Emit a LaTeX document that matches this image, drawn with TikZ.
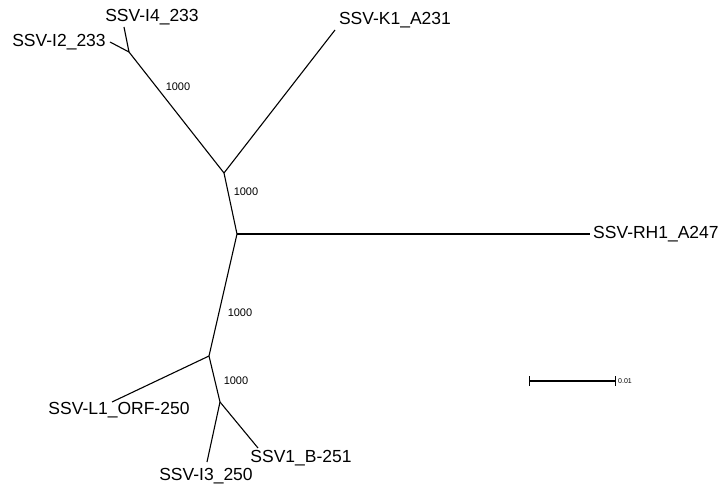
\documentclass[tikz,border=0pt]{standalone}
\usepackage{fontspec}
\setmainfont{Liberation Sans}
\usetikzlibrary{arrows.meta,calc,positioning}

\begin{document}
\begin{tikzpicture}[
  x=1pt, y=-1pt,
  branch/.style={draw=black, line width=1.1pt},
  leaf/.style={inner sep=0pt, font=\fontsize{17.5}{18}\selectfont},
  boot/.style={inner sep=0pt, font=\fontsize{11}{12}\selectfont},
  scalebar/.style={draw=black, line width=1.3pt, {Bar[width=10pt]}-{Bar[width=10pt]}}
]
\useasboundingbox (0,0) rectangle (726,489);

% internal nodes
\coordinate (nA) at (129,52);
\coordinate (nB) at (224,173);
\coordinate (nC) at (237,234);
\coordinate (nD) at (209,356);
\coordinate (nE) at (220,402);

% tips
\coordinate (tI4) at (124,27);
\coordinate (tI2) at (110,42);
\coordinate (tK1) at (335,30);
\coordinate (tRH1) at (590,234);
\coordinate (tL1) at (112,402);
\coordinate (tI3) at (207,462);
\coordinate (tB) at (258,448);

% labels
\node[leaf] (lI4) at (152,17) {SSV-I4\_233};
\node[leaf] (lI2) at (59,42) {SSV-I2\_233};
\node[leaf] (lK1) at (395,20) {SSV-K1\_A231};
\node[leaf, anchor=west] (lRH1) at (593,234) {SSV-RH1\_A247};
\node[leaf] (lL1) at (119,410) {SSV-L1\_ORF-250};
\node[leaf] (lB) at (301,458) {SSV1\_B-251};
\node[leaf] (lI3) at (206,476) {SSV-I3\_250};

\node[boot] (b1) at (178,87) {1000};
\node[boot] (b2) at (246,192) {1000};
\node[boot] (b3) at (240,313) {1000};
\node[boot] (b4) at (236,381) {1000};

% tree
\draw[branch] (tI4) -- (nA);
\draw[branch] (tI2) -- (nA);
\draw[branch] (nA) -- (nB);
\draw[branch] (tK1) -- (nB);
\draw[branch] (nB) -- (nC);
\draw[branch] (nC) -- (tRH1);
\draw[branch] (nC) -- (nD);
\draw[branch] (nD) -- (tL1);
\draw[branch] (nD) -- (nE);
\draw[branch] (nE) -- (tI3);
\draw[branch] (nE) -- (tB);

% scale
\coordinate (sL) at (529,381);
\coordinate (sR) at (616,381);
\draw[scalebar] (sL) -- (sR);
\node[inner sep=0pt, anchor=west, font=\fontsize{7}{8}\selectfont] (sLab) at (618,381) {0.01};
\end{tikzpicture}
\end{document}
